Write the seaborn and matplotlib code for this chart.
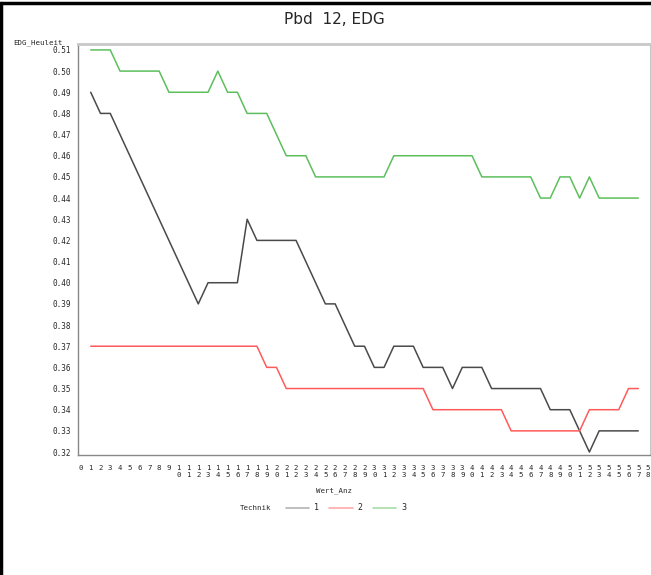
import pandas as pd
import numpy as np
import matplotlib
matplotlib.use("Agg")
import matplotlib.pyplot as plt
from matplotlib.lines import Line2D
from matplotlib.ticker import MultipleLocator
import seaborn as sns

wert_anz = list(range(1, 58))
technik_1 = [0.49, 0.48, 0.48, 0.47, 0.46, 0.45, 0.44, 0.43, 0.42, 0.41,
             0.40, 0.39, 0.40, 0.40, 0.40, 0.40, 0.43, 0.42, 0.42, 0.42,
             0.42, 0.42, 0.41, 0.40, 0.39, 0.39, 0.38, 0.37, 0.37, 0.36,
             0.36, 0.37, 0.37, 0.37, 0.36, 0.36, 0.36, 0.35, 0.36, 0.36,
             0.36, 0.35, 0.35, 0.35, 0.35, 0.35, 0.35, 0.34, 0.34, 0.34,
             0.33, 0.32, 0.33, 0.33, 0.33, 0.33, 0.33]
technik_2 = [0.37, 0.37, 0.37, 0.37, 0.37, 0.37, 0.37, 0.37, 0.37, 0.37,
             0.37, 0.37, 0.37, 0.37, 0.37, 0.37, 0.37, 0.37, 0.36, 0.36,
             0.35, 0.35, 0.35, 0.35, 0.35, 0.35, 0.35, 0.35, 0.35, 0.35,
             0.35, 0.35, 0.35, 0.35, 0.35, 0.34, 0.34, 0.34, 0.34, 0.34,
             0.34, 0.34, 0.34, 0.33, 0.33, 0.33, 0.33, 0.33, 0.33, 0.33,
             0.33, 0.34, 0.34, 0.34, 0.34, 0.35, 0.35]
technik_3 = [0.51, 0.51, 0.51, 0.50, 0.50, 0.50, 0.50, 0.50, 0.49, 0.49,
             0.49, 0.49, 0.49, 0.50, 0.49, 0.49, 0.48, 0.48, 0.48, 0.47,
             0.46, 0.46, 0.46, 0.45, 0.45, 0.45, 0.45, 0.45, 0.45, 0.45,
             0.45, 0.46, 0.46, 0.46, 0.46, 0.46, 0.46, 0.46, 0.46, 0.46,
             0.45, 0.45, 0.45, 0.45, 0.45, 0.45, 0.44, 0.44, 0.45, 0.45,
             0.44, 0.45, 0.44, 0.44, 0.44, 0.44, 0.44]
x_ticks = list(range(0, 59))
y_ticks = [0.32, 0.33, 0.34, 0.35, 0.36, 0.37, 0.38, 0.39, 0.40, 0.41,
           0.42, 0.43, 0.44, 0.45, 0.46, 0.47, 0.48, 0.49, 0.50, 0.51]

df = pd.DataFrame({
    "Wert_Anz": wert_anz * 3,
    "EDG_Wert": technik_1 + technik_2 + technik_3,
    "Technik": ["1"] * 57 + ["2"] * 57 + ["3"] * 57,
})

sns.set_style("white")
plt.rcParams["font.family"] = ["DejaVu Sans"]

colors = {"1": "#4a4a4a", "2": "#ff5a5a", "3": "#5cbf5c"}
legend_colors = ["#b4b4b4", "#ffa8a8", "#a8dca8"]

fig = plt.figure(figsize=(6.51, 5.75), dpi=100)
ax = fig.add_axes([78 / 651, 1 - 455 / 575, 572 / 651, 411 / 575])

sns.lineplot(data=df, x="Wert_Anz", y="EDG_Wert", hue="Technik",
             palette=colors, linewidth=1.1, legend=False, ax=ax)

ax.set_xlim(-0.3, 58.2)
ax.set_ylim(0.3186, 0.5128)
ax.set_xticks(x_ticks)
ax.set_xticklabels(["\n".join(str(k)) for k in x_ticks],
                   family="DejaVu Sans Mono", fontsize=5.3, linespacing=1.25)
ax.set_yticks(y_ticks)
ax.set_yticklabels(["%.2f" % v for v in y_ticks],
                   family="DejaVu Sans Mono", fontsize=5.5)
ax.yaxis.set_minor_locator(MultipleLocator(0.001))
ax.tick_params(axis="x", which="major", length=3, width=0.8, color="#555555", pad=4)
ax.tick_params(axis="y", which="major", length=3, width=0.8, color="#555555", pad=2)
ax.tick_params(axis="y", which="minor", length=1.5, width=0.8, color="#555555")
ax.set_xlabel("")
ax.set_ylabel("")

for side in ["left", "bottom"]:
    ax.spines[side].set_color("#888888")
    ax.spines[side].set_linewidth(1.0)
ax.spines["top"].set_color("#c8c8c8")
ax.spines["top"].set_linewidth(2.0)
ax.spines["right"].set_color("#c8c8c8")
ax.spines["right"].set_linewidth(0.8)

fig.text(334 / 651, 1 - 20 / 575, "Pbd  12, EDG", ha="center", va="center", fontsize=11)
fig.text(13 / 651, 1 - 43 / 575, "EDG_Heuleit", ha="left", va="center",
         family="DejaVu Sans Mono", fontsize=5.3)
fig.text(334 / 651, 1 - 491 / 575, "Wert_Anz", ha="center", va="center",
         family="DejaVu Sans Mono", fontsize=5.3)
fig.text(240 / 651, 1 - 508 / 575, "Technik", ha="left", va="center",
         family="DejaVu Sans Mono", fontsize=5.3)

handles = [Line2D([0], [0], color=c, lw=1.2) for c in legend_colors]
fig.legend(handles, ["1", "2", "3"], loc="center left",
           bbox_to_anchor=(286 / 651, 1 - 508 / 575), ncol=3, frameon=False,
           prop={"family": "DejaVu Sans Mono", "size": 6},
           handlelength=2.8, handletextpad=0.6, columnspacing=1.2,
           borderaxespad=0, borderpad=0)

# schwarzer Rahmen oben und links
fig.add_artist(Line2D([0.002, 0.002], [0, 0.994], transform=fig.transFigure,
                      color="black", lw=2.5))
fig.add_artist(Line2D([0, 1], [0.994, 0.994], transform=fig.transFigure,
                      color="black", lw=2.5))

fig.savefig("out.png", dpi=100)
